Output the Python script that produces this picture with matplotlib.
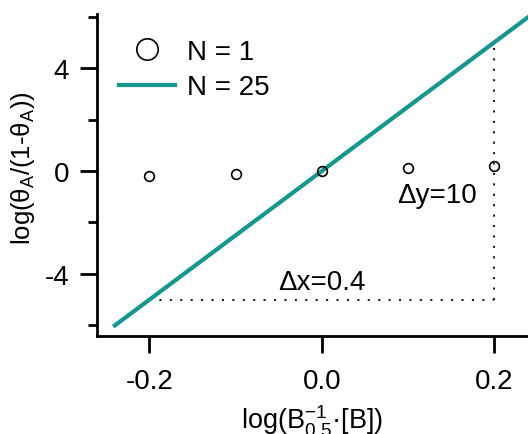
import numpy as np
import matplotlib.pyplot as plt
from matplotlib.ticker import MultipleLocator

plt.rcParams['font.family'] = ['Liberation Sans', 'DejaVu Sans']
plt.rcParams['mathtext.fontset'] = 'custom'
plt.rcParams['mathtext.rm'] = 'Liberation Sans'
plt.rcParams['mathtext.it'] = 'Liberation Sans:italic'
plt.rcParams['axes.unicode_minus'] = False

# Hill-type plot data
x_n1 = [-0.2, -0.1, 0.0, 0.1, 0.2]
y_n1 = [-0.2, -0.1, 0.0, 0.1, 0.2]
x_n25 = [-0.24, 0.24]
y_n25 = [-6.0, 6.0]

# slope triangle
dx_x = [-0.2, 0.2]
dx_y = [-5.0, -5.0]
dy_x = [0.2, 0.2]
dy_y = [-5.0, 5.0]

teal = '#13978f'

fig = plt.figure(figsize=(5.28, 4.35), dpi=100)
ax = fig.add_axes([97 / 528, 98 / 435, 1 - 97 / 528, (337 - 15) / 435])

ax.plot(dx_x, dx_y, color='#222222', lw=1.5, ls=(0, (1, 4)))
ax.plot(dy_x, dy_y, color='#222222', lw=1.5, ls=(0, (1, 4)))
ax.plot(x_n25, y_n25, color=teal, lw=3, label='N = 25', zorder=3)
ax.plot(x_n1, y_n1, 'o', mfc='none', mec='black', ms=7, mew=1.2,
        label='N = 1', zorder=4)

ax.text(0.134, -0.95, 'Δy=10', fontsize=20, ha='center', va='center')
ax.text(0.0, -4.3, 'Δx=0.4', fontsize=20, ha='center', va='center')

ax.set_xlim(-0.2607, 0.239)
ax.set_ylim(-6.41, 6.1)
ax.yaxis.set_major_locator(MultipleLocator(4))
ax.yaxis.set_minor_locator(MultipleLocator(2))
ax.set_xticks([-0.2, 0.0, 0.2])
ax.set_xticklabels(['-0.2', '0.0', '0.2'])

for s in ['top', 'right']:
    ax.spines[s].set_visible(False)
for s in ['left', 'bottom']:
    ax.spines[s].set_linewidth(2)

ax.tick_params(which='major', length=12, width=2, labelsize=20)
ax.tick_params(axis='x', pad=11)
ax.tick_params(axis='y', pad=8)
ax.tick_params(which='minor', length=6.5, width=2)

ax.set_xlabel(r'log($\mathregular{B_{0.5}^{-1}}$·[B])', fontsize=19.5, labelpad=6)
ax.set_ylabel(r'log($\mathregular{θ_A}$/(1-$\mathregular{θ_A}$))', fontsize=18.5)
ax.yaxis.set_label_coords(-0.14, 0.525)

handles, labels = ax.get_legend_handles_labels()
ax.legend(handles[::-1], labels[::-1], loc='upper left', frameon=False,
          fontsize=20, markerscale=2.2, handlelength=2.0, handletextpad=0.45,
          labelspacing=0.35, borderaxespad=0.2, bbox_to_anchor=(0.013, 0.975))

fig.savefig('out.png', dpi=100)
